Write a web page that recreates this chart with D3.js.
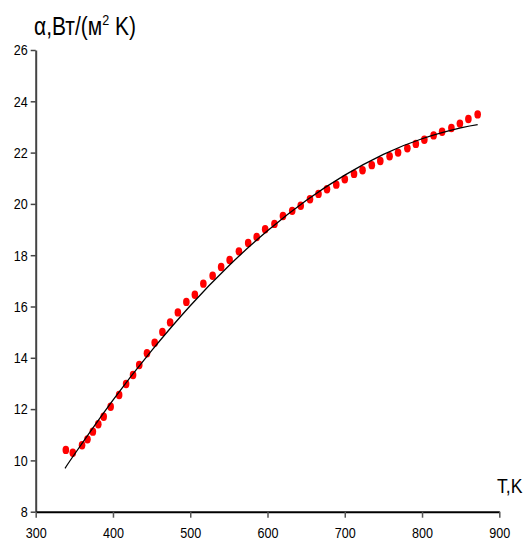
<!DOCTYPE html>
<html>
<head>
<meta charset="utf-8">
<script src="https://cdn.jsdelivr.net/npm/d3@7"></script>
<style>
  body { margin: 0; background: #fff; }
  text { font-family: "Liberation Sans", Arial, sans-serif; }
</style>
</head>
<body>
<svg id="chart" width="528" height="550"></svg>
<script>
// measured points (T, alpha)
const tValues = [339, 348, 360, 367, 374, 381, 388, 397, 408, 417, 426, 434, 444, 454, 464, 474, 484, 495, 506, 517,
    529, 540, 551, 563, 575, 586, 597, 609, 620, 632, 643, 655, 666, 677, 689, 700, 712, 723, 735, 746,
    758, 769, 781, 792, 803, 815, 826, 838, 849, 860, 872];
const alphaValues = [10.41, 10.30, 10.59, 10.82, 11.12, 11.41, 11.70, 12.09, 12.55, 12.98, 13.33, 13.72, 14.18, 14.59, 15.01, 15.38, 15.77, 16.18, 16.46, 16.89,
    17.20, 17.54, 17.81, 18.15, 18.48, 18.71, 19.01, 19.22, 19.53, 19.73, 19.93, 20.18, 20.39, 20.57, 20.75, 20.96, 21.17, 21.31, 21.51, 21.67,
    21.86, 22.00, 22.17, 22.34, 22.50, 22.67, 22.81, 22.96, 23.13, 23.31, 23.49];

// approximating curve
const fitT = [338, 350, 400, 450, 500, 550, 600, 650, 700, 750, 800, 850, 872];
const fitAlpha = [9.69, 10.23, 12.35, 14.28, 16.03, 17.59, 18.95, 20.13, 21.12, 21.93, 22.54, 22.96, 23.09];

const xTicks = [300, 400, 500, 600, 700, 800, 900];
const yTicks = [8, 10, 12, 14, 16, 18, 20, 22, 24, 26];

const narrow = 0.84; // squeeze text horizontally, no narrow font installed

const svg = d3.select("#chart");

const x = d3.scaleLinear().domain([300, 900]).range([35.7, 499.3]);
const y = d3.scaleLinear().domain([8, 26]).range([511.7, 50]);

function squeeze(sel) {
    sel.each(function () {
        const t = d3.select(this);
        const x0 = +t.attr("x") || 0;
        t.attr("x", x0 / narrow).attr("transform", `scale(${narrow},1)`);
    });
}

// y axis
const yAxis = svg.append("g")
    .attr("transform", `translate(${x(300)},0)`)
    .call(d3.axisLeft(y).tickValues(yTicks).tickSize(5).tickSizeOuter(0).tickPadding(3));
yAxis.select(".domain").attr("stroke", "#444").attr("stroke-width", 2);
yAxis.selectAll(".tick line").attr("stroke", "#444").attr("stroke-width", 1.5);
yAxis.selectAll(".tick text").attr("fill", "#000").style("font-size", "15px").call(squeeze);

// x axis
const xAxis = svg.append("g")
    .attr("transform", `translate(0,${y(8)})`)
    .call(d3.axisBottom(x).tickValues(xTicks).tickSize(6).tickSizeOuter(0).tickPadding(10));
xAxis.select(".domain").attr("stroke", "#000").attr("stroke-width", 2);
xAxis.selectAll(".tick line").attr("stroke", "#555").attr("stroke-width", 1.5);
xAxis.selectAll(".tick text").attr("fill", "#000").style("font-size", "15px").call(squeeze);

// axis titles
const yTitle = svg.append("text")
    .attr("x", 34 / narrow)
    .attr("y", 35)
    .attr("transform", `scale(${narrow},1)`)
    .style("font-size", "25px")
    .attr("fill", "#000");
yTitle.append("tspan").text("α,Вт/(м");
yTitle.append("tspan").attr("dy", -10).style("font-size", "15px").text("2");
yTitle.append("tspan").attr("dy", 10).text(" K)");

svg.append("text")
    .attr("x", 497 / narrow)
    .attr("y", 493)
    .attr("transform", `scale(${narrow},1)`)
    .style("font-size", "21px")
    .attr("fill", "#000")
    .text("T,K");

// points
const pts = tValues.map((t, i) => ({ t: t, a: alphaValues[i] }));
svg.append("g")
    .selectAll("ellipse")
    .data(pts)
    .enter()
    .append("ellipse")
    .attr("cx", d => x(d.t))
    .attr("cy", d => y(d.a))
    .attr("rx", 3.3)
    .attr("ry", 4.2)
    .attr("fill", "#ff0000");

// fitted curve
const fit = fitT.map((t, i) => [t, fitAlpha[i]]);
svg.append("path")
    .attr("d", d3.line().x(d => x(d[0])).y(d => y(d[1])).curve(d3.curveNatural)(fit))
    .attr("fill", "none")
    .attr("stroke", "#000")
    .attr("stroke-width", 1.3);
</script>
</body>
</html>
